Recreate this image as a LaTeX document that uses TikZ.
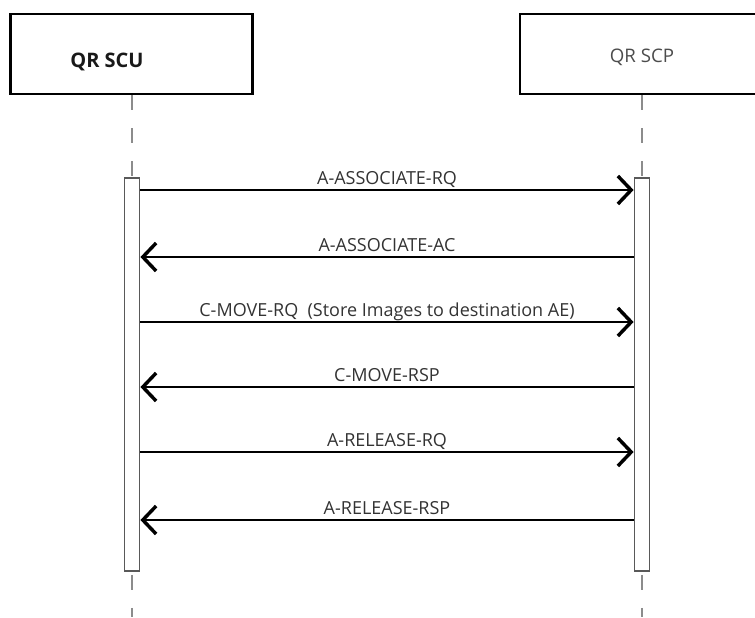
\documentclass[tikz,border=0pt]{standalone}
\usepackage{fontspec}
\setmainfont{Open Sans}
\usetikzlibrary{arrows.meta}

\begin{document}
\begin{tikzpicture}[x=.75pt,y=-.75pt,>={Straight Barb[length=10pt,width=21pt,line width=2.6pt]},
  font=\fontsize{13.5}{15}\selectfont,
  actor/.style={draw=black,line width=2.2pt,fill=white,minimum height=60pt,inner sep=0pt},
  bar/.style={draw=black!65,line width=1.1pt,fill=white,minimum width=11.5pt,minimum height=295pt,inner sep=0pt},
  life/.style={draw=black!45,line width=1.2pt,dash pattern=on 11.25pt off 13.5pt},
  msg/.style={->,line width=2pt},
  lbl/.style={text=black!80,inner sep=0pt,anchor=base,yshift=4.5pt}]
  \useasboundingbox (0,0) rectangle (755,617);
  \clip (0,0) rectangle (755,617);
  \coordinate (bottom) at (0,617);

  \node[actor,minimum width=182pt] (scu) at (131.5,54) {};
  \node[actor,minimum width=192pt] (scp) at (648,54) {};
  \node[font=\fontsize{15}{17}\bfseries\selectfont,text=black!90] (scuname) at (107,62) {QR SCU};
  \node[font=\fontsize{14}{16}\selectfont,text=black!70] (scpname) at (642,57) {QR SCP};

  \node[bar] (scubar) at (132,374.5) {};
  \node[bar] (scpbar) at (642,374.5) {};

  \foreach \b in {scubar,scpbar} {
    \draw[life] (\b.north |- scu.south) -- (\b.north);
    \draw[life,dash phase=22.5pt] (\b.south) -- (\b.south |- bottom);
  }

  \foreach \y/\from/\to/\txt in {190/scubar.east/scpbar.west/A-ASSOCIATE-RQ,
      257/scpbar.west/scubar.east/A-ASSOCIATE-AC,
      322/scubar.east/scpbar.west/C-MOVE-RQ\ \ (Store Images to destination AE),
      387/scpbar.west/scubar.east/C-MOVE-RSP,
      452/scubar.east/scpbar.west/A-RELEASE-RQ,
      520/scpbar.west/scubar.east/A-RELEASE-RSP} {
    \coordinate (m) at (0,\y);
    \draw[msg] (\from |- m) -- (\to |- m) node[lbl,midway] {\txt};
  }
\end{tikzpicture}
\end{document}
